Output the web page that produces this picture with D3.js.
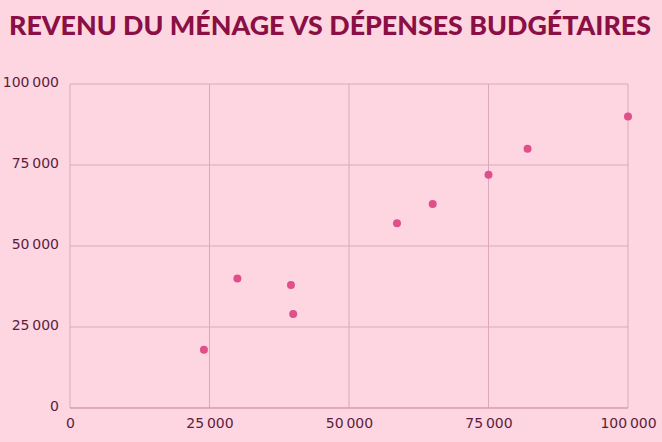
<!DOCTYPE html>
<html><head><meta charset="utf-8">
<script src="https://cdn.jsdelivr.net/npm/d3@7"></script>
<style>
html,body{margin:0;padding:0;background:#fdd6e2;}
svg{display:block;}
</style></head>
<body><svg id="c" width="662" height="442"></svg>
<script>
const title = "REVENU DU MÉNAGE VS DÉPENSES BUDGÉTAIRES";
const income   = [24000, 30000, 39600, 40000, 58600, 65000, 75000, 82000, 100000];
const spending = [18000, 40000, 38000, 29000, 57000, 63000, 72000, 80000, 90000];
const xTicks = [0, 25000, 50000, 75000, 100000];
const yTicks = [0, 25000, 50000, 75000, 100000];

const svg = d3.select("#c");
const W = 662, H = 442;
const m = {left:70, right:34, top:84, bottom:34};
svg.append("rect").attr("width",W).attr("height",H).attr("fill","#fdd6e2");

const x = d3.scaleLinear().domain([0,100000]).range([m.left, W-m.right]);
const y = d3.scaleLinear().domain([0,100000]).range([H-m.bottom, m.top]);
const fmt = v => d3.format(",")(v).replace(/,/g, "\u202F");

svg.append("text").attr("x", 9).attr("y", 35)
  .attr("textLength", 642).attr("lengthAdjust","spacingAndGlyphs")
  .attr("font-family","Lato, 'DejaVu Sans', sans-serif").attr("font-weight",900)
  .attr("font-size", 27).attr("fill","#8a0f44").text(title);

// gridlines
const g = svg.append("g");
g.selectAll(".gx").data(xTicks).join("line")
  .attr("x1",d=>x(d)).attr("x2",d=>x(d)).attr("y1",y(0)).attr("y2",y(100000))
  .attr("stroke","#dba9bb").attr("stroke-width",1);
g.selectAll(".gy").data(yTicks).join("line")
  .attr("y1",d=>y(d)).attr("y2",d=>y(d)).attr("x1",x(0)).attr("x2",x(100000))
  .attr("stroke","#dba9bb").attr("stroke-width",1);
g.append("line").attr("x1",x(0)).attr("x2",x(100000)).attr("y1",y(0)).attr("y2",y(0))
  .attr("stroke","#cf97ab").attr("stroke-width",1.2);

// axes via d3
const xAxis = d3.axisBottom(x).tickValues(xTicks).tickFormat(fmt).tickSize(0).tickPadding(10);
const yAxis = d3.axisLeft(y).tickValues(yTicks).tickFormat(fmt).tickSize(0).tickPadding(11);
const xa = svg.append("g").attr("transform",`translate(0,${y(0)})`).call(xAxis);
const ya = svg.append("g").attr("transform",`translate(${x(0)},0)`).call(yAxis);
[xa, ya].forEach(a => {
  a.select(".domain").remove();
  a.selectAll("text").attr("font-family","'DejaVu Sans', sans-serif")
    .attr("font-size",14).attr("fill","#5c1d3c");
});
ya.selectAll("text").attr("dy","0.2em");

svg.append("g").selectAll("circle").data(income.map((d,i)=>[d,spending[i]])).join("circle")
  .attr("cx",d=>x(d[0])).attr("cy",d=>y(d[1])).attr("r",4)
  .attr("fill","#e04f89");
</script></body></html>
